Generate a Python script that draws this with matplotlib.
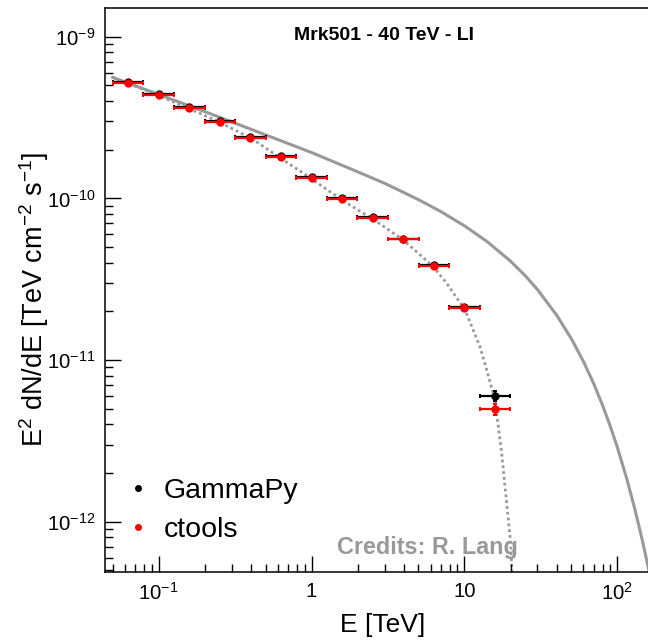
import matplotlib
matplotlib.use("Agg")
import matplotlib.pyplot as plt
from matplotlib.lines import Line2D
from matplotlib.ticker import FixedLocator, FuncFormatter, LogLocator, NullFormatter
import numpy as np

plt.rcParams['font.family'] = ['Liberation Sans', 'DejaVu Sans']
plt.rcParams['mathtext.fontset'] = 'custom'
plt.rcParams['mathtext.rm'] = 'Liberation Sans'
plt.rcParams['mathtext.it'] = 'Liberation Sans:italic'
plt.rcParams['mathtext.bf'] = 'Liberation Sans:bold'
plt.rcParams['mathtext.default'] = 'regular'

# ---------------- data ----------------
energy = [0.0631, 0.1, 0.1585, 0.2512, 0.3981, 0.631, 1.0, 1.585, 2.512, 3.981, 6.31, 10.0, 15.85]
bin_edges = [0.0501, 0.0794, 0.1259, 0.1995, 0.3162, 0.5012, 0.7943, 1.259, 1.995, 3.162, 5.012,
             7.943, 12.59, 19.95]

ctools_flux = [5.15e-10, 4.33e-10, 3.60e-10, 2.95e-10, 2.36e-10, 1.79e-10, 1.33e-10,
               9.85e-11, 7.58e-11, 5.58e-11, 3.82e-11, 2.11e-11, 4.96e-12]
ctools_err = [8e-12, 6e-12, 5e-12, 4e-12, 3e-12, 2.5e-12, 2e-12, 1.5e-12, 1.3e-12, 1.1e-12,
              9e-13, 7e-13, 3.6e-13]

gammapy_flux = [5.22e-10, 4.42e-10, 3.68e-10, 3.00e-10, 2.38e-10, 1.82e-10, 1.35e-10,
                1.00e-10, 7.68e-11, 5.63e-11, 3.85e-11, 2.13e-11, 6.02e-12]
gammapy_err = [8e-12, 6e-12, 5e-12, 4e-12, 3e-12, 2.5e-12, 2e-12, 1.5e-12, 1.3e-12, 1.1e-12,
               9e-13, 7e-13, 4.5e-13]

# intrinsic model (solid grey curve)
model_e = [0.05, 0.1, 0.2, 0.5, 1.0, 2.0, 3.0, 5.0, 7.0, 10.0, 14.0, 20.0, 25.0, 30.0, 40.0,
           50.0, 60.0, 70.0, 80.0, 90.0, 100.0, 115.0, 130.0, 145.0, 160.0, 170.0]
model_f = [5.60e-10, 4.39e-10, 3.44e-10, 2.47e-10, 1.92e-10, 1.46e-10, 1.24e-10, 9.82e-11,
           8.29e-11, 6.76e-11, 5.42e-11, 4.09e-11, 3.32e-11, 2.73e-11, 1.90e-11, 1.355e-11,
           9.79e-12, 7.15e-12, 5.25e-12, 3.88e-12, 2.88e-12, 1.855e-12, 1.20e-12, 7.8e-13,
           5.1e-13, 3.85e-13]

# absorbed model (dotted grey curve)
abs_e = [0.0500, 0.0877, 0.1602, 0.2335, 0.340, 0.4375, 0.653, 0.8396, 1.319, 1.696, 2.666,
         3.979, 6.25, 7.649, 10.08, 12.63, 13.97, 15.83, 17.51, 18.88, 20.05, 20.45]
abs_f = [5.60e-10, 4.55e-10, 3.57e-10, 3.05e-10, 2.555e-10, 2.233e-10, 1.727e-10, 1.477e-10,
         1.100e-10, 9.37e-11, 7.18e-11, 5.53e-11, 3.78e-11, 2.985e-11, 2.04e-11, 1.21e-11,
         8.69e-12, 5.66e-12, 2.65e-12, 1.30e-12, 7.36e-13, 4.69e-13]

xtick_values = [0.1, 1, 10, 100]
xtick_labels = ['$10^{-1}$', '1', '10', '$10^{2}$']
ytick_values = [1e-12, 1e-11, 1e-10, 1e-9]
ytick_labels = ['$10^{-12}$', '$10^{-11}$', '$10^{-10}$', '$10^{-9}$']

title = 'Mrk501 - 40 TeV - LI'
credits = 'Credits: R. Lang'
labels = ['GammaPy', 'ctools']

# ---------------- plot ----------------
W, H = 648, 640
fig = plt.figure(figsize=(W / 100, H / 100), dpi=100)
L, R, T, B = 105, 650, 8, 572
ax = fig.add_axes([L / W, 1 - B / H, (R - L) / W, (B - T) / H])

gray = '#999999'
ax.plot(model_e, model_f, color=gray, lw=2.2, solid_joinstyle='round', zorder=1)
ax.plot(abs_e, abs_f, color=gray, lw=2.0, linestyle=(0, (1.0, 1.1)), zorder=1)

e = np.array(energy)
edges = np.array(bin_edges)
xerr = [e - edges[:-1], edges[1:] - e]

ax.errorbar(e, gammapy_flux, xerr=xerr, yerr=gammapy_err, fmt='o', color='black', ms=5,
            elinewidth=1.6, capsize=1.6, capthick=1.4, zorder=3)
ax.errorbar(e, ctools_flux, xerr=xerr, yerr=ctools_err, fmt='o', color='red', ms=5,
            elinewidth=1.6, capsize=1.6, capthick=1.4, zorder=4)

ax.set_xscale('log')
ax.set_yscale('log')
ax.set_xlim(0.04455, 163.4)
ax.set_ylim(4.89e-13, 1.504e-9)

ax.xaxis.set_major_locator(FixedLocator(xtick_values))
ax.xaxis.set_major_formatter(FuncFormatter(lambda v, p: xtick_labels[xtick_values.index(v)]
                                           if v in xtick_values else ''))
ax.xaxis.set_minor_locator(LogLocator(base=10, subs=np.arange(2, 10), numticks=20))
ax.xaxis.set_minor_formatter(NullFormatter())
ax.yaxis.set_major_locator(FixedLocator(ytick_values))
ax.yaxis.set_major_formatter(FuncFormatter(lambda v, p: ytick_labels[ytick_values.index(v)]
                                           if v in ytick_values else ''))
ax.yaxis.set_minor_locator(LogLocator(base=10, subs=np.arange(2, 10), numticks=20))
ax.yaxis.set_minor_formatter(NullFormatter())

ax.tick_params(which='both', direction='in', top=False, right=False, width=1.0, color='black')
ax.tick_params(which='major', length=11.5, labelsize=14.7)
ax.tick_params(which='minor', length=5.8)
ax.tick_params(axis='x', which='major', pad=7)
ax.tick_params(axis='y', which='major', pad=7)

for s in ax.spines.values():
    s.set_linewidth(1.1)
    s.set_color('black')

ax.set_xlabel('E [TeV]', fontsize=19)
ax.xaxis.set_label_coords((383 - L) / (R - L), -(613 - B) / (B - T))
ax.set_ylabel(r'E$^{2}$ dN/dE [TeV cm$^{-2}$ s$^{-1}$]', fontsize=19.5)
ax.yaxis.set_label_coords(-(L - 51) / (R - L), (B - 299) / (B - T))

ax.text((384 - L) / (R - L), (B - 36) / (B - T), title, transform=ax.transAxes,
        ha='center', va='center', fontsize=14, fontweight='bold')
ax.text((427.5 - L) / (R - L), (B - 554) / (B - T), credits, transform=ax.transAxes,
        ha='center', va='baseline', fontsize=16.8, fontweight='bold', color=gray)

handles = [Line2D([], [], ls='', marker='o', color='black', ms=4),
           Line2D([], [], ls='', marker='o', color='red', ms=4)]
ax.legend(handles, labels, loc='upper left',
          bbox_to_anchor=((131 - L) / (R - L), (B - 478) / (B - T)),
          frameon=False, fontsize=20.5, handlelength=0.5, handletextpad=0.66,
          labelspacing=0.45, borderpad=0, borderaxespad=0)

fig.savefig('out.png', dpi=100)
